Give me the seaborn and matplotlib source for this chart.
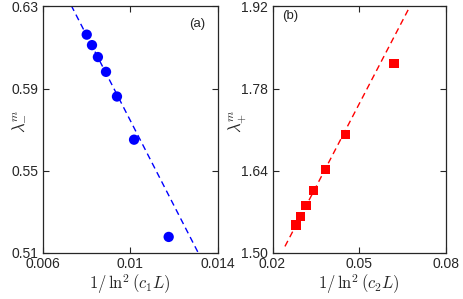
import numpy as np
import pandas as pd
import matplotlib
matplotlib.use("Agg")
import matplotlib.pyplot as plt
import seaborn as sns

# panel (a): lambda_-^m vs 1/ln^2(c1 L)
xa = [0.00801, 0.00825, 0.00852, 0.00889, 0.00939, 0.01017, 0.01175]
ya = [0.6162, 0.6111, 0.6053, 0.5981, 0.5861, 0.5651, 0.5178]
fit_a = (-20.76, 0.782)          # slope, intercept
fit_a_range = [0.0073, 0.0131]

# panel (b): lambda_+^m vs 1/ln^2(c2 L)
xb = [0.02813, 0.02961, 0.03158, 0.03425, 0.03826, 0.04517, 0.06201]
yb = [1.5478, 1.5625, 1.5813, 1.6059, 1.6422, 1.7015, 1.8227]
fit_b = (9.454, 1.2814)
fit_b_range = [0.0243, 0.0676]

xticks_a = [0.006, 0.01, 0.014]
yticks_a = [0.51, 0.55, 0.59, 0.63]
xticks_b = [0.02, 0.05, 0.08]
yticks_b = [1.50, 1.64, 1.78, 1.92]

sns.set_theme(style="ticks")
plt.rcParams['font.family'] = ['Liberation Sans', 'DejaVu Sans']
plt.rcParams['mathtext.fontset'] = 'cm'

fig = plt.figure(figsize=(4.63, 2.99), dpi=100)
ax1 = fig.add_axes([0.0922, 0.154, 0.3786, 0.825])
ax2 = fig.add_axes([0.5886, 0.154, 0.3747, 0.825])


def draw_panel(ax, x, y, fit, fit_range, color, marker, msize):
    fx = np.linspace(fit_range[0], fit_range[1], 50)
    fy = fit[0] * fx + fit[1]
    sns.lineplot(x=fx, y=fy, ax=ax, color=color, lw=1.0,
                 linestyle=(0, (4.5, 3)), sort=False)
    sns.scatterplot(x=x, y=y, ax=ax, color=color, marker=marker,
                    s=msize, edgecolor='none', zorder=3)


draw_panel(ax1, xa, ya, fit_a, fit_a_range, '#0000ff', 'o', 55)
draw_panel(ax2, xb, yb, fit_b, fit_b_range, '#ff0000', 's', 45)

ax1.set_xlim(0.006, 0.014)
ax1.set_ylim(0.51, 0.63)
ax1.set_xticks(xticks_a)
ax1.set_xticklabels(['0.006', '0.01', '0.014'])
ax1.set_yticks(yticks_a)
ax1.set_yticklabels(['0.51', '0.55', '0.59', '0.63'])
ax1.set_xlabel(r'$1/\,\ln^2(c_1L)$', fontsize=12, labelpad=1)
ax1.set_ylabel(r'$\lambda_{-}^{m}$', fontsize=12)
ax1.yaxis.set_label_coords(-0.10, 0.535)
ax1.text(0.88, 0.928, '(a)', transform=ax1.transAxes, fontsize=9.5,
         ha='center', va='center')

ax2.set_xlim(0.02, 0.08)
ax2.set_ylim(1.50, 1.92)
ax2.set_xticks(xticks_b)
ax2.set_xticklabels(['0.02', '0.05', '0.08'])
ax2.set_yticks(yticks_b)
ax2.set_yticklabels(['1.50', '1.64', '1.78', '1.92'])
ax2.set_xlabel(r'$1/\,\ln^2(c_2L)$', fontsize=12, labelpad=1)
ax2.set_ylabel(r'$\lambda_{+}^{m}$', fontsize=12)
ax2.yaxis.set_label_coords(-0.135, 0.535)
ax2.text(0.10, 0.962, '(b)', transform=ax2.transAxes, fontsize=9.5,
         ha='center', va='center')

for ax in (ax1, ax2):
    for s in ax.spines.values():
        s.set_visible(True)
        s.set_color('#262626')
        s.set_linewidth(0.9)
    ax.tick_params(direction='in', length=4, width=0.8, color='#262626',
                   top=True, right=True, labelsize=10, labelcolor='#262626',
                   pad=3)

fig.savefig('out.png', dpi=100)
